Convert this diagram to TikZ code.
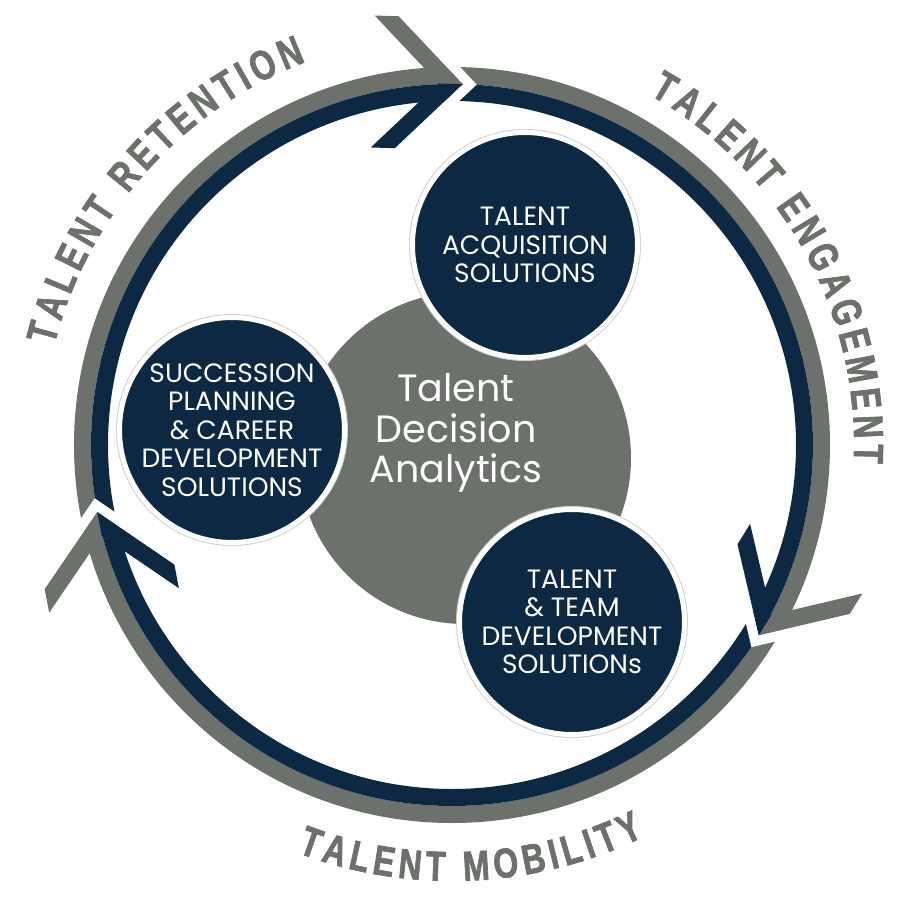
\documentclass[tikz,border=0pt]{standalone}
\usepackage{fontspec}
\usetikzlibrary{decorations.text}
\newfontfamily\geofont{Poppins}
\newfontfamily\arcfont{Liberation Sans Bold}[FakeStretch=0.76,FakeBold=1.6]
\definecolor{tdnavy}{RGB}{12,40,66}
\definecolor{tdgray}{RGB}{108,113,107}
\newcommand{\arclabel}{\arcfont\fontsize{42}{48}\selectfont}

\begin{document}
\begin{tikzpicture}[x=1pt,y=1pt,
  bubble/.style={circle,fill=tdnavy,draw=white,line width=5pt,minimum size=225pt,inner sep=0pt,
    align=center,text=white,font=\geofont\fontsize{26.5}{28.5}\selectfont,
    preaction={draw=black!18,line width=7pt}},
  core/.style={circle,fill=tdgray,minimum size=332pt,inner sep=0pt},
  arctext/.style={decorate,decoration={text effects along path,text={#1},text align=center,
    text effects/.cd,text along path,characters={text=tdgray,font=\arclabel,inner xsep=2.5pt,inner ysep=0pt,anchor=base}}}]
\useasboundingbox (-452,-455) rectangle (448,445);
\fill[white] (-452,-455) rectangle (448,445);

% Ring
\draw[tdgray,line width=17pt] (0,0) circle[radius=369.5];
\draw[tdnavy,line width=17pt] (0,0) circle[radius=352.5];

% Arrow breaks
\foreach \a in {88.3,-31.8,190.7}{
  \begin{scope}[shift={(\a:361)},rotate=\a-90]
    \fill[white] (0,0) -- (-19,19) -- (-5,19) -- (14,0) -- (-5,-19) -- (-19,-19) -- cycle;
    \fill[tdgray] (0,0) -- (-66,66) -- (-90,66) -- (-24,0) -- cycle;
    \fill[tdnavy] (0,0) -- (-66,-66) -- (-90,-66) -- (-24,0) -- cycle;
  \end{scope}
}

% Ring labels
\path[arctext={TALENT RETENTION}] (178.4:410) arc[start angle=178.4,end angle=98.4,radius=410];
\path[arctext={TALENT ENGAGEMENT}] (74:402) arc[start angle=74,end angle=-16,radius=402];
\path[arctext={TALENT MOBILITY}] (-127.3:436) arc[start angle=-127.3,end angle=-47.3,radius=436];

% Core
\node[core] (core) at (13,-13) {};
\node[align=center,text=white,font=\geofont\fontsize{38}{40.5}\selectfont] (corelabel) at (4,12) {Talent\\Decision\\Analytics};

% Solutions
\node[bubble] (acq) at (73,200) {TALENT\\ACQUISITION\\SOLUTIONS};
\node[bubble] (succ) at (-220,15) {SUCCESSION\\PLANNING\\\& CAREER\\DEVELOPMENT\\SOLUTIONS};
\node[bubble] (team) at (120,-177) {TALENT\\\& TEAM\\DEVELOPMENT\\SOLUTIONs};
\end{tikzpicture}
\end{document}
